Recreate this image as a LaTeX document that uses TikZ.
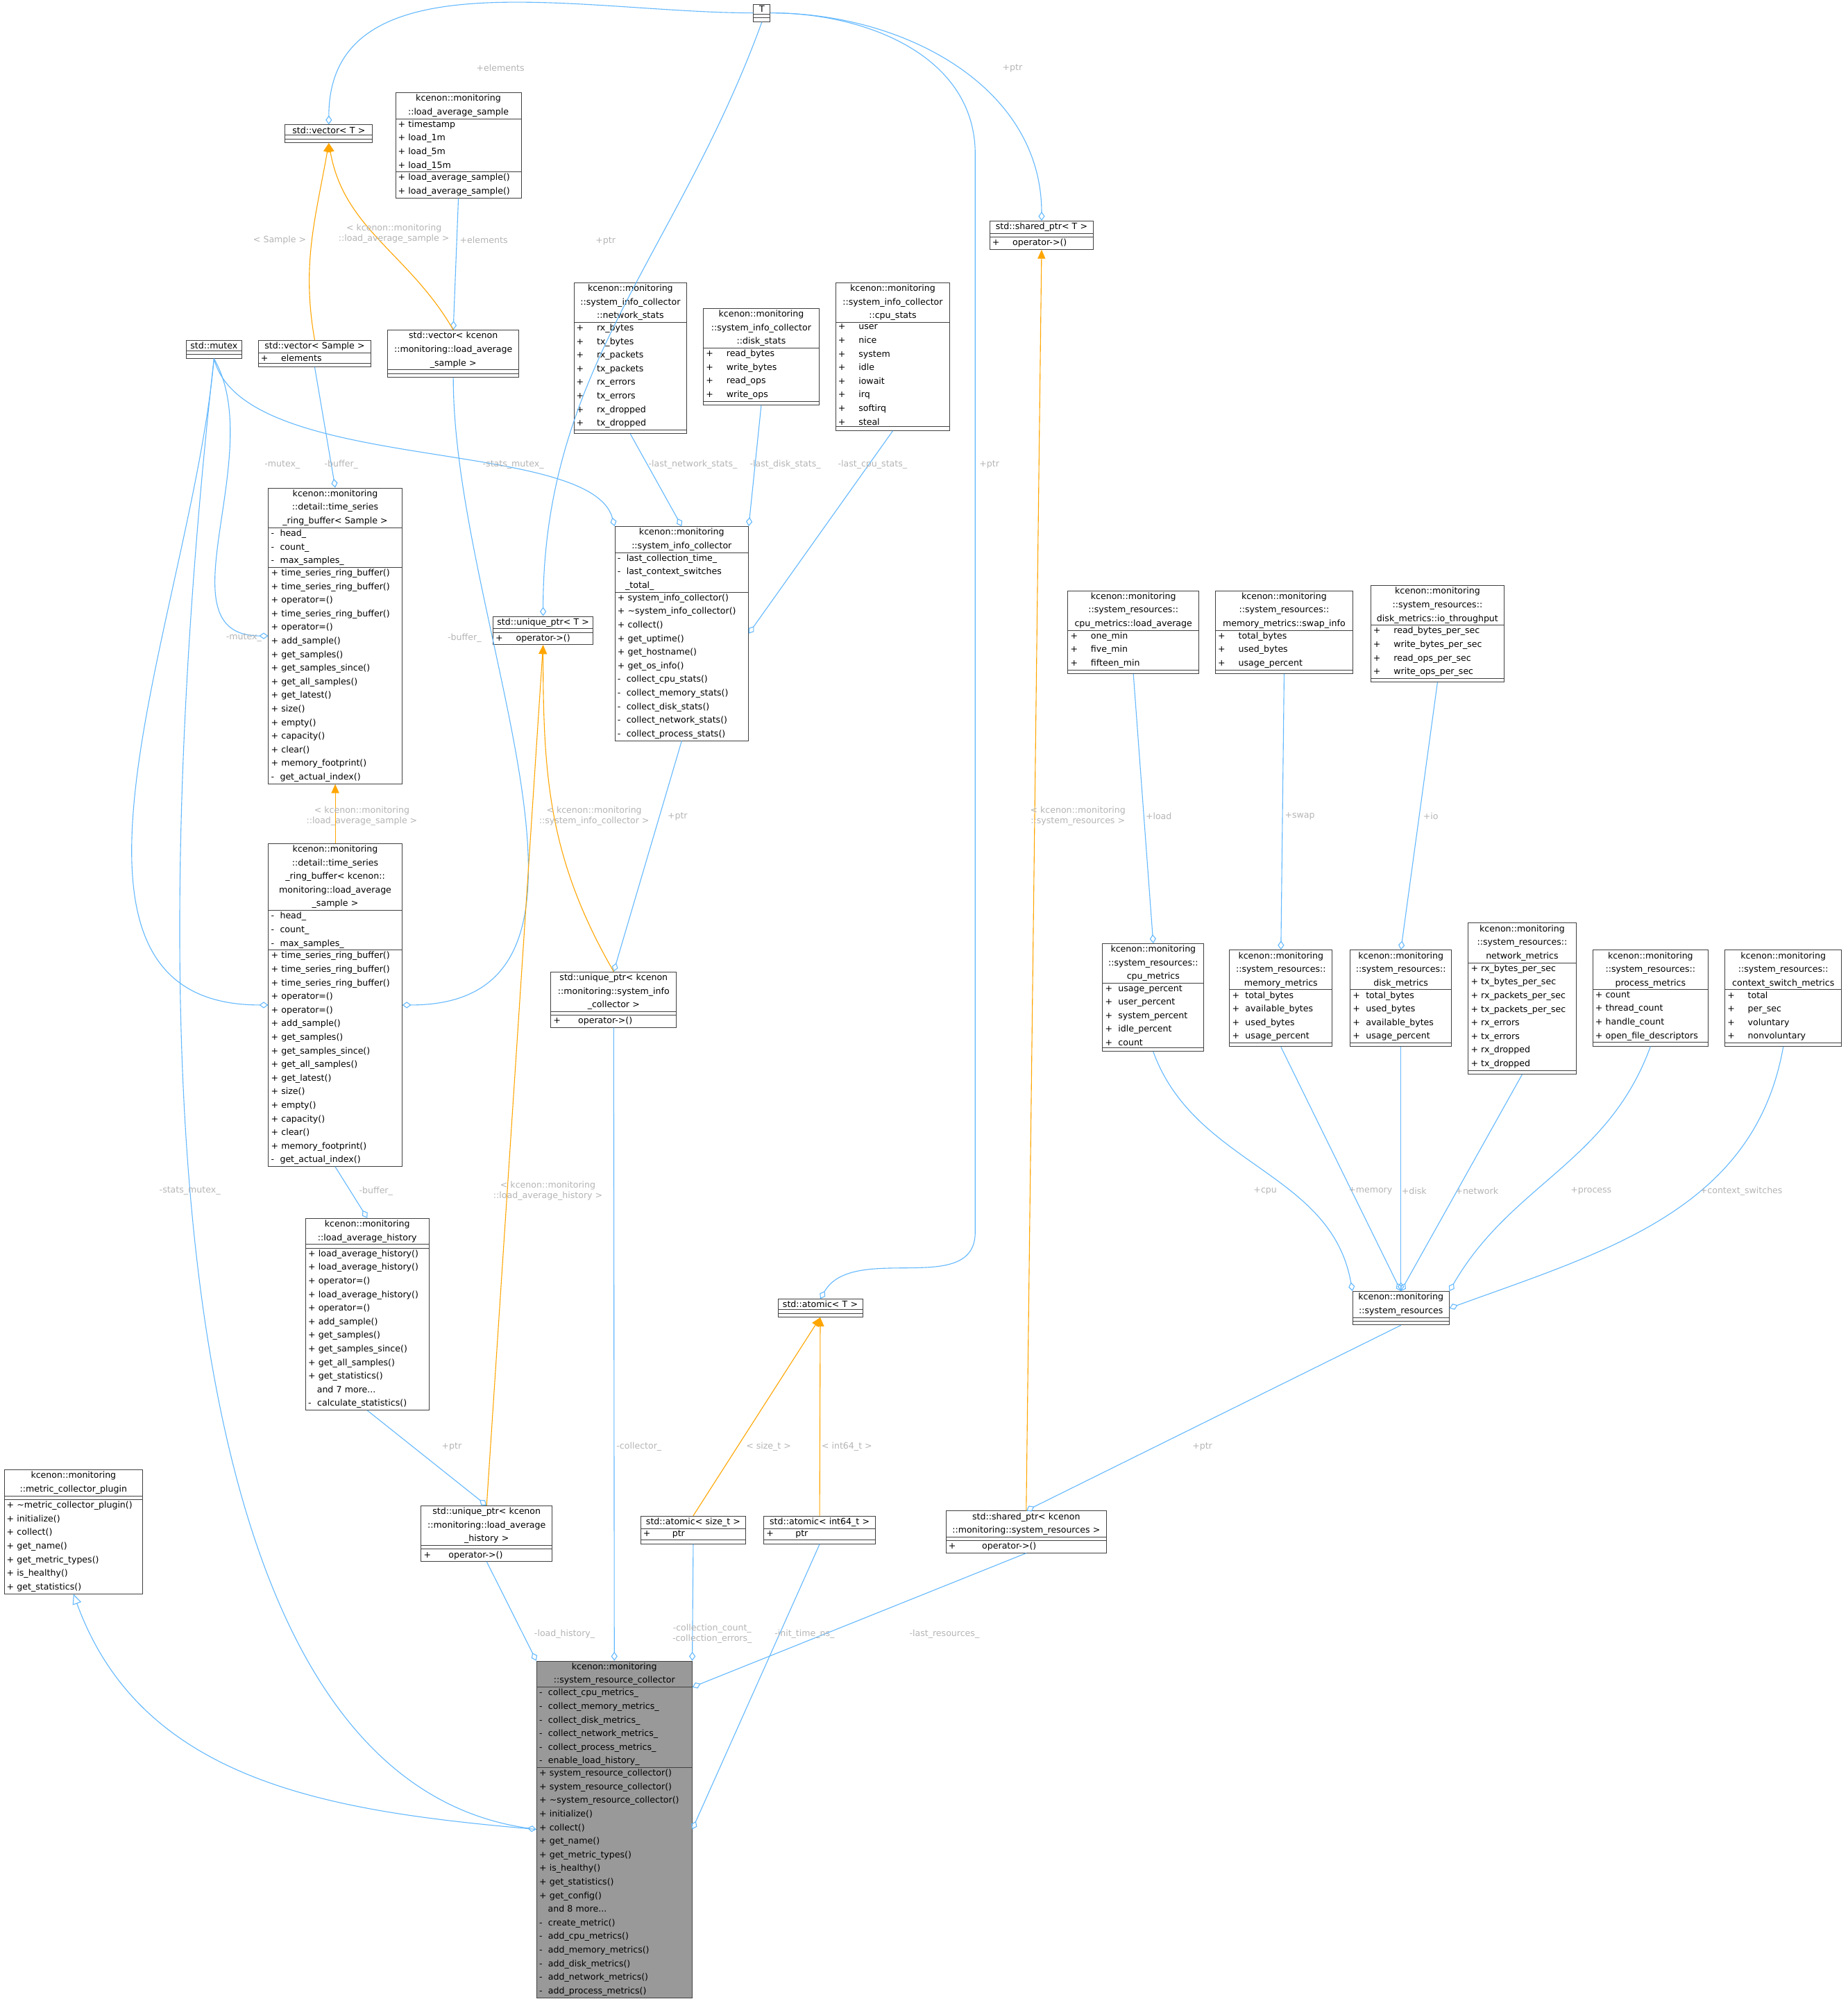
\documentclass[tikz,border=0pt]{standalone}
\usepackage{fontspec}
\setmainfont{DejaVu Sans}
\usetikzlibrary{shapes.multipart,arrows.meta}
\definecolor{edgeblue}{HTML}{63B8FF}
\definecolor{edgeorange}{HTML}{FFA500}
\definecolor{lblgray}{HTML}{B4B4B4}
\tikzset{
  cls/.style={rectangle split,rectangle split parts=3,draw=black!75,line width=0.5pt,
    inner xsep=2pt,inner ysep=1.2pt,align=left,anchor=north west,
    font=\fontsize{6.8}{10.6}\selectfont,rectangle split empty part height=5pt},
  agg/.style={draw=edgeblue,line width=0.6pt,-{Diamond[open,length=7pt,width=5pt]}},
  tpl/.style={draw=edgeorange,line width=0.6pt,-{Triangle[length=7pt,width=6pt]}},
  inh/.style={draw=edgeblue,line width=0.6pt,-{Triangle[open,length=8pt,width=7pt]}},
  lbl/.style={text=lblgray,font=\fontsize{6.8}{8}\selectfont,align=center,inner sep=0pt}
}
% name, x, y, text width, title, attributes, methods
\newcommand{\umlbox}[8][]{\node[cls,text width=#4pt,#1] (#2) at (#3) {\centering #5\par\nodepart{two}#6\nodepart{three}#7#8};}
\newcommand{\ts}[1]{+\hspace{1.5em}#1}
\begin{document}
\begin{tikzpicture}[x=1pt,y=-1pt]
\useasboundingbox (0,0) rectangle (1440,1570);
% templates and helpers
\umlbox{T}{587,3}{9}{T}{}{}{}
\umlbox{vecT}{222,97}{64}{std::vector< T >}{}{}{}
\umlbox{las}{308,72}{94}{kcenon::monitoring\\::load\_average\_sample}{+ timestamp\\+ load\_1m\\+ load\_5m\\+ load\_15m}{+ load\_average\_sample()\\+ load\_average\_sample()}{}
\umlbox{shptrT}{771,172}{77}{std::shared\_ptr< T >}{}{+\hspace{1.5em}operator->()}{}
\umlbox{mutex}{145,265}{39}{std::mutex}{}{}{}
\umlbox{vecS}{201,265}{84}{std::vector< Sample >}{\ts{elements}}{}{}
\umlbox{vecLAS}{302,257}{98}{std::vector< kcenon\\::monitoring::load\_average\\\_sample >}{}{}{}
\umlbox{netst}{447,220}{84}{kcenon::monitoring\\::system\_info\_collector\\::network\_stats}{\ts{rx\_bytes}\\\ts{tx\_bytes}\\\ts{rx\_packets}\\\ts{tx\_packets}\\\ts{rx\_errors}\\\ts{tx\_errors}\\\ts{rx\_dropped}\\\ts{tx\_dropped}}{}{}
\umlbox{diskst}{548,240}{86}{kcenon::monitoring\\::system\_info\_collector\\::disk\_stats}{\ts{read\_bytes}\\\ts{write\_bytes}\\\ts{read\_ops}\\\ts{write\_ops}}{}{}
\umlbox{cpust}{651,220}{85}{kcenon::monitoring\\::system\_info\_collector\\::cpu\_stats}{\ts{user}\\\ts{nice}\\\ts{system}\\\ts{idle}\\\ts{iowait}\\\ts{irq}\\\ts{softirq}\\\ts{steal}}{}{}
\umlbox{rbS}{209,380}{100}{kcenon::monitoring\\::detail::time\_series\\\_ring\_buffer< Sample >}{-\ \ head\_\\-\ \ count\_\\-\ \ max\_samples\_}{+ time\_series\_ring\_buffer()\\+ time\_series\_ring\_buffer()\\+ operator=()\\+ time\_series\_ring\_buffer()\\+ operator=()\\+ add\_sample()\\+ get\_samples()\\+ get\_samples\_since()\\+ get\_all\_samples()\\+ get\_latest()\\+ size()\\+ empty()\\+ capacity()\\+ clear()\\+ memory\_footprint()\\-\ \ get\_actual\_index()}{}
\umlbox{uptrT}{384,480}{74}{std::unique\_ptr< T >}{}{+\hspace{1.5em}operator->()}{}
\umlbox{sic}{479,410}{100}{kcenon::monitoring\\::system\_info\_collector}{-\ \ last\_collection\_time\_\\-\ \ last\_context\_switches\\\hspace*{0.9em}\_total\_}{+ system\_info\_collector()\\+ \textasciitilde system\_info\_collector()\\+ collect()\\+ get\_uptime()\\+ get\_hostname()\\+ get\_os\_info()\\-\ \ collect\_cpu\_stats()\\-\ \ collect\_memory\_stats()\\-\ \ collect\_disk\_stats()\\-\ \ collect\_network\_stats()\\-\ \ collect\_process\_stats()}{}
\umlbox{rbL}{209,657}{100}{kcenon::monitoring\\::detail::time\_series\\\_ring\_buffer< kcenon::\\monitoring::load\_average\\\_sample >}{-\ \ head\_\\-\ \ count\_\\-\ \ max\_samples\_}{+ time\_series\_ring\_buffer()\\+ time\_series\_ring\_buffer()\\+ time\_series\_ring\_buffer()\\+ operator=()\\+ operator=()\\+ add\_sample()\\+ get\_samples()\\+ get\_samples\_since()\\+ get\_all\_samples()\\+ get\_latest()\\+ size()\\+ empty()\\+ capacity()\\+ clear()\\+ memory\_footprint()\\-\ \ get\_actual\_index()}{}
\umlbox{uptrSIC}{429,757}{94}{std::unique\_ptr< kcenon\\::monitoring::system\_info\\\_collector >}{}{+\hspace{2em}operator->()}{}
% system resources
\umlbox{ldavg}{832,460}{98}{kcenon::monitoring\\::system\_resources::\\cpu\_metrics::load\_average}{\ts{one\_min}\\\ts{five\_min}\\\ts{fifteen\_min}}{}{}
\umlbox{swap}{947,460}{103}{kcenon::monitoring\\::system\_resources::\\memory\_metrics::swap\_info}{\ts{total\_bytes}\\\ts{used\_bytes}\\\ts{usage\_percent}}{}{}
\umlbox{iothr}{1068,456}{100}{kcenon::monitoring\\::system\_resources::\\disk\_metrics::io\_throughput}{\ts{read\_bytes\_per\_sec}\\\ts{write\_bytes\_per\_sec}\\\ts{read\_ops\_per\_sec}\\\ts{write\_ops\_per\_sec}}{}{}
\umlbox{cpum}{859,735}{75}{kcenon::monitoring\\::system\_resources::\\cpu\_metrics}{+\ \ usage\_percent\\+\ \ user\_percent\\+\ \ system\_percent\\+\ \ idle\_percent\\+\ \ count}{}{}
\umlbox{memm}{958,740}{76}{kcenon::monitoring\\::system\_resources::\\memory\_metrics}{+\ \ total\_bytes\\+\ \ available\_bytes\\+\ \ used\_bytes\\+\ \ usage\_percent}{}{}
\umlbox{diskm}{1052,740}{75}{kcenon::monitoring\\::system\_resources::\\disk\_metrics}{+\ \ total\_bytes\\+\ \ used\_bytes\\+\ \ available\_bytes\\+\ \ usage\_percent}{}{}
\umlbox{netm}{1144,719}{80}{kcenon::monitoring\\::system\_resources::\\network\_metrics}{+ rx\_bytes\_per\_sec\\+ tx\_bytes\_per\_sec\\+ rx\_packets\_per\_sec\\+ tx\_packets\_per\_sec\\+ rx\_errors\\+ tx\_errors\\+ rx\_dropped\\+ tx\_dropped}{}{}
\umlbox{procm}{1241,740}{86}{kcenon::monitoring\\::system\_resources::\\process\_metrics}{+ count\\+ thread\_count\\+ handle\_count\\+ open\_file\_descriptors}{}{}
\umlbox{ctxm}{1344,740}{87}{kcenon::monitoring\\::system\_resources::\\context\_switch\_metrics}{\ts{total}\\\ts{per\_sec}\\\ts{voluntary}\\\ts{nonvoluntary}}{}{}
\umlbox{lah}{238,949}{92}{kcenon::monitoring\\::load\_average\_history}{}{+ load\_average\_history()\\+ load\_average\_history()\\+ operator=()\\+ load\_average\_history()\\+ operator=()\\+ add\_sample()\\+ get\_samples()\\+ get\_samples\_since()\\+ get\_all\_samples()\\+ get\_statistics()\\\hspace*{1em}and 7 more...\\-\ \ calculate\_statistics()}{}
\umlbox{atomicT}{606,1012}{62}{std::atomic< T >}{}{}{}
\umlbox{sres}{1054,1006}{71}{kcenon::monitoring\\::system\_resources}{}{}{}
\umlbox{plugin}{3,1145}{104}{kcenon::monitoring\\::metric\_collector\_plugin}{}{+ \textasciitilde metric\_collector\_plugin()\\+ initialize()\\+ collect()\\+ get\_name()\\+ get\_metric\_types()\\+ is\_healthy()\\+ get\_statistics()}{}
\umlbox{uptrLAH}{328,1173}{98}{std::unique\_ptr< kcenon\\::monitoring::load\_average\\\_history >}{}{+\hspace{2em}operator->()}{}
\umlbox{atomicSz}{499,1181}{78}{std::atomic< size\_t >}{+\hspace{2.5em}ptr}{}{}
\umlbox{atomicI}{595,1181}{83}{std::atomic< int64\_t >}{+\hspace{2.5em}ptr}{}{}
\umlbox{shptrSR}{737,1177}{121}{std::shared\_ptr< kcenon\\::monitoring::system\_resources >}{}{+\hspace{3em}operator->()}{}
\umlbox[fill=black!40]{src}{418,1294}{117}{kcenon::monitoring\\::system\_resource\_collector}{-\ \ collect\_cpu\_metrics\_\\-\ \ collect\_memory\_metrics\_\\-\ \ collect\_disk\_metrics\_\\-\ \ collect\_network\_metrics\_\\-\ \ collect\_process\_metrics\_\\-\ \ enable\_load\_history\_}{+ system\_resource\_collector()\\+ system\_resource\_collector()\\+ \textasciitilde system\_resource\_collector()\\+ initialize()\\+ collect()\\+ get\_name()\\+ get\_metric\_types()\\+ is\_healthy()\\+ get\_statistics()\\+ get\_config()\\\hspace*{1em}and 8 more...\\-\ \ create\_metric()\\-\ \ add\_cpu\_metrics()\\-\ \ add\_memory\_metrics()\\-\ \ add\_disk\_metrics()\\-\ \ add\_network\_metrics()\\-\ \ add\_process\_metrics()}{}
% members
\draw[agg] (T.west) to[out=180,in=90] (vecT.north);
\draw[agg] (T.east) to[out=0,in=90] (shptrT.north);
\draw[agg] (T.south) to[out=-110,in=90] (uptrT.north);
\draw[agg] (T.east) to[out=0,in=90] (760,120) -- (760,960) to[out=-90,in=60] (atomicT.north);
\draw[agg] (las.south) -- (vecLAS.north);
\draw[agg] (mutex.south) to[out=-60,in=180] (rbS.west);
\draw[agg] (mutex.south) to[out=-95,in=180] (rbL.west);
\draw[agg] (mutex.south) .. controls (190,370) and (460,340) .. (sic.north west);
\draw[agg] (mutex.south) .. controls (120,700) and (100,1380) .. (src.west);
\draw[agg] (vecS.south) -- (rbS.north);
\draw[agg] (vecLAS.south) to[out=-90,in=0] (rbL.east);
\draw[agg] (netst.south) -- (sic.north);
\draw[agg] (diskst.south) -- (sic.north east);
\draw[agg] (cpust.south) -- (sic.east);
\draw[agg] (sic.south) -- (uptrSIC.north);
\draw[agg] (rbL.south) -- (lah.north);
\draw[agg] (lah.south) -- (uptrLAH.north);
\draw[agg] (uptrLAH.south) -- (src.north west);
\draw[agg] (uptrSIC.south) -- (src.north);
\draw[agg] (atomicSz.south) -- (src.north east);
\draw[agg] (atomicI.south) -- (src.east);
\draw[agg] (shptrSR.south) -- (src.text split east);
\draw[agg] (sres.south) -- (shptrSR.north);
\draw[agg] (ldavg.south) -- (cpum.north);
\draw[agg] (swap.south) -- (memm.north);
\draw[agg] (iothr.south) -- (diskm.north);
\draw[agg] (cpum.south) to[out=-70,in=100] (sres.north west);
\draw[agg] (memm.south) -- (sres.north);
\draw[agg] (diskm.south) -- (sres.north);
\draw[agg] (netm.south) -- (sres.north);
\draw[agg] (procm.south) to[out=-110,in=60] (sres.north east);
\draw[agg] (ctxm.south) to[out=-100,in=20] (sres.east);
% templates
\draw[tpl] (vecS.north) to[out=100,in=-100] (vecT.south);
\draw[tpl] (vecLAS.north) to[out=120,in=-80] (vecT.south);
\draw[tpl] (rbL.north) -- (rbS.south);
\draw[tpl] (uptrSIC.north) to[out=120,in=-90] (uptrT.south);
\draw[tpl] (uptrLAH.north) -- (uptrT.south);
\draw[tpl] (atomicSz.north) -- (atomicT.south);
\draw[tpl] (atomicI.north) -- (atomicT.south);
\draw[tpl] (shptrSR.north) -- (shptrT.south);
% inheritance
\draw[inh] (src.west) to[out=175,in=-70] (plugin.south);
% labels
\node[lbl] at (390,53) {+elements};
\node[lbl] at (789,53) {+ptr};
\node[lbl] at (472,188) {+ptr};
\node[lbl] at (771,362) {+ptr};
\node[lbl] at (218,187) {< Sample >};
\node[lbl] at (307,182) {< kcenon::monitoring\\::load\_average\_sample >};
\node[lbl] at (377,187) {+elements};
\node[lbl] at (220,362) {-mutex\_};
\node[lbl] at (190,497) {-mutex\_};
\node[lbl] at (400,362) {-stats\_mutex\_};
\node[lbl] at (148,928) {-stats\_mutex\_};
\node[lbl] at (266,362) {-buffer\_};
\node[lbl] at (362,497) {-buffer\_};
\node[lbl] at (282,636) {< kcenon::monitoring\\::load\_average\_sample >};
\node[lbl] at (540,362) {-last\_network\_stats\_};
\node[lbl] at (612,362) {-last\_disk\_stats\_};
\node[lbl] at (680,362) {-last\_cpu\_stats\_};
\node[lbl] at (463,636) {< kcenon::monitoring\\::system\_info\_collector >};
\node[lbl] at (528,636) {+ptr};
\node[lbl] at (427,928) {< kcenon::monitoring\\::load\_average\_history >};
\node[lbl] at (293,928) {-buffer\_};
\node[lbl] at (352,1127) {+ptr};
\node[lbl] at (440,1273) {-load\_history\_};
\node[lbl] at (498,1127) {-collector\_};
\node[lbl] at (555,1273) {-collection\_count\_\\-collection\_errors\_};
\node[lbl] at (627,1273) {-init\_time\_ns\_};
\node[lbl] at (736,1273) {-last\_resources\_};
\node[lbl] at (599,1127) {< size\_t >};
\node[lbl] at (660,1127) {< int64\_t >};
\node[lbl] at (840,636) {< kcenon::monitoring\\::system\_resources >};
\node[lbl] at (937,1127) {+ptr};
\node[lbl] at (903,636) {+load};
\node[lbl] at (1013,636) {+swap};
\node[lbl] at (1115,636) {+io};
\node[lbl] at (986,928) {+cpu};
\node[lbl] at (1068,928) {+memory};
\node[lbl] at (1102,928) {+disk};
\node[lbl] at (1151,928) {+network};
\node[lbl] at (1240,928) {+process};
\node[lbl] at (1357,928) {+context\_switches};
\end{tikzpicture}
\end{document}
